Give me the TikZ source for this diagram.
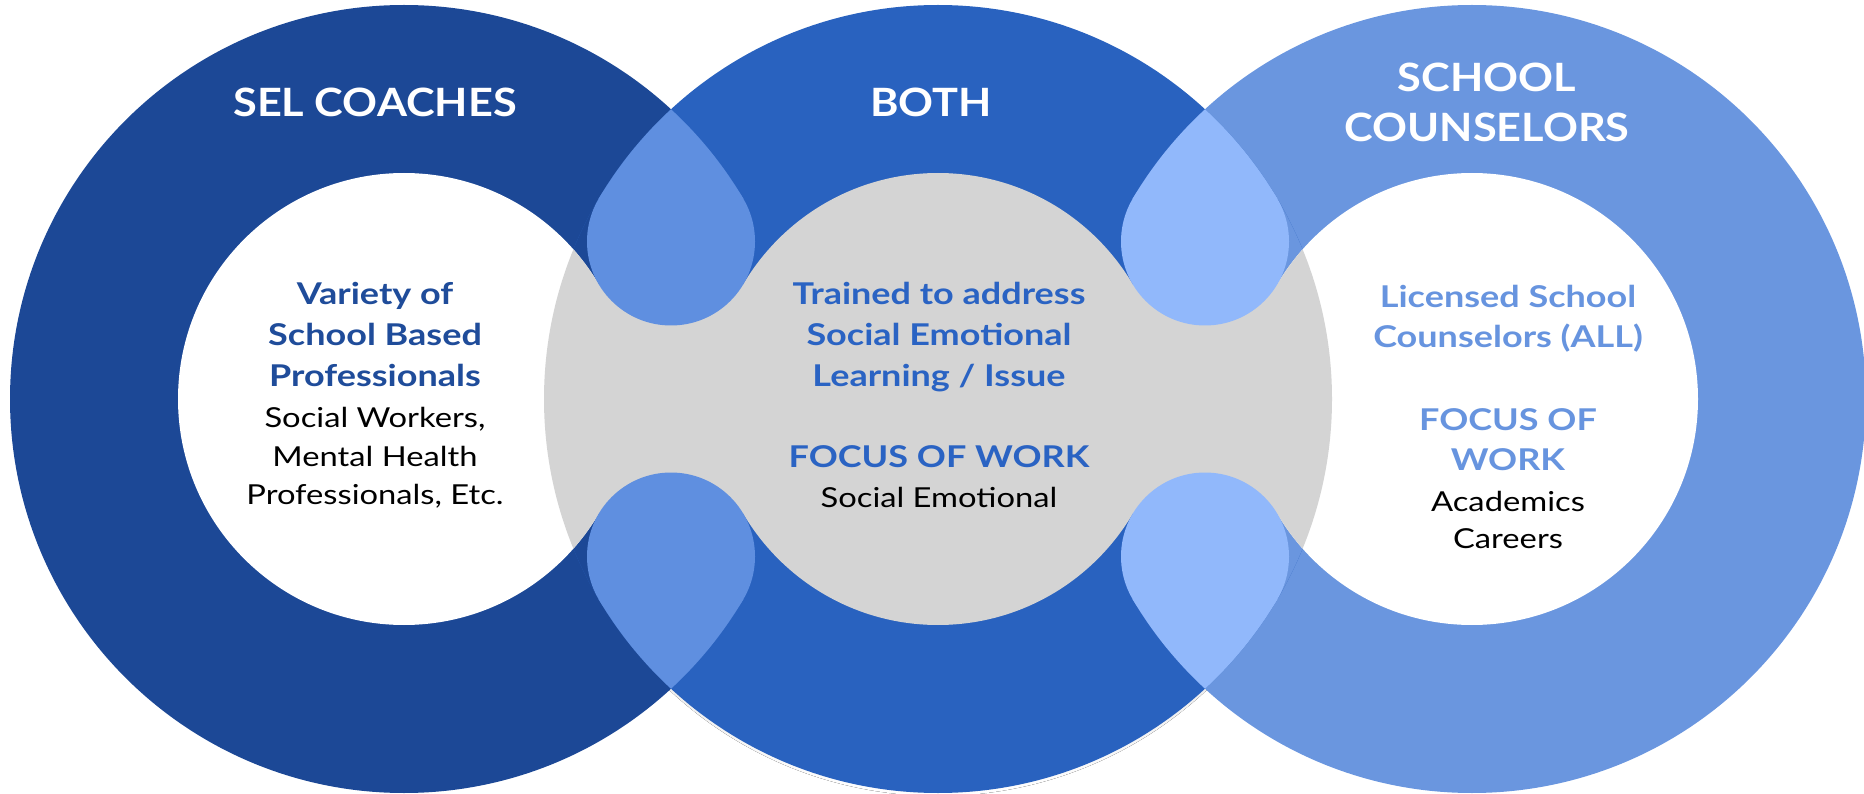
\documentclass[tikz,border=0pt]{standalone}
\usepackage{fontspec}
\setmainfont{Lato}
\newfontfamily\titlefamily{Lato}[FakeStretch=1.11]
\newfontfamily\headfamily{Lato}[FakeStretch=1.2]
\newfontfamily\bodyfamily{Lato}[FakeStretch=1.19]
\begin{document}
\begin{tikzpicture}[x=1pt,y=-1pt,
  titletext/.style={text=white, font=\titlefamily\fontsize{39}{47}\selectfont\bfseries, anchor=base, inner sep=0pt},
  headtext/.style={font=\headfamily\fontsize{30}{36}\selectfont\bfseries, anchor=base, inner sep=0pt},
  bodytext/.style={text=black, font=\bodyfamily\fontsize{27.5}{33}\selectfont, anchor=base, inner sep=0pt}]
\definecolor{ringdark}{HTML}{1C4896}
\definecolor{ringmid}{HTML}{2962BF}
\definecolor{ringlight}{HTML}{6A96DF}
\definecolor{dropA}{HTML}{5F8FE0}
\definecolor{dropB}{HTML}{91B8FB}
\definecolor{centergray}{HTML}{D4D4D4}
\definecolor{shade}{HTML}{CBCBCB}
\definecolor{txtdark}{HTML}{1F4C9A}
\definecolor{txtmid}{HTML}{2A63C3}
\definecolor{txtlight}{HTML}{6794DF}
\useasboundingbox (0,0) rectangle (1864,794);

% soft shadow under the middle ring
\fill[shade] (938,402) circle[radius=394];

% three outer disks
\fill[ringdark] (404,399) circle[radius=394];
\fill[ringlight] (1472,399) circle[radius=394];
\fill[ringmid] (938,399) circle[radius=394];

% each band keeps its own colour inside the overlaps
\begin{scope}
  \clip (404,399) circle[radius=394];
  \clip (938,399) circle[radius=394];
  \fill[ringdark] (500,0) rectangle (671,794);
  \fill[ringmid] (671,0) rectangle (850,794);
\end{scope}
\begin{scope}
  \clip (938,399) circle[radius=394];
  \clip (1472,399) circle[radius=394];
  \fill[ringmid] (1034,0) rectangle (1205,794);
  \fill[ringlight] (1205,0) rectangle (1384,794);
\end{scope}

% white holes of the outer rings
\fill[white] (404,399) circle[radius=226];
\fill[white] (1472,399) circle[radius=226];

% grey centre
\fill[centergray] (938,399) circle[radius=226];
\begin{scope}
  \clip (938,399) circle[radius=394];
  \fill[centergray] (404,399) circle[radius=226];
  \fill[centergray] (1472,399) circle[radius=226];
\end{scope}
\fill[centergray] (598.65,284.2) -- (671,241.5) -- (743.35,284.2) -- (743.35,513.8) -- (671,556.5) -- (598.65,513.8) -- cycle;
\fill[centergray] (1132.65,284.2) -- (1205,241.5) -- (1277.35,284.2) -- (1277.35,513.8) -- (1205,556.5) -- (1132.65,513.8) -- cycle;

% teardrops in the overlaps
\begin{scope}
  \clip (404,399) circle[radius=394];
  \clip (938,399) circle[radius=394];
  \fill[dropA] (500,0) rectangle (850,199.5);
  \fill[dropA] (500,598.5) rectangle (850,794);
\end{scope}
\fill[dropA] (671,241.5) circle[radius=84];
\fill[dropA] (671,556.5) circle[radius=84];
\begin{scope}
  \clip (938,399) circle[radius=394];
  \clip (1472,399) circle[radius=394];
  \fill[dropB] (1034,0) rectangle (1384,199.5);
  \fill[dropB] (1034,598.5) rectangle (1384,794);
\end{scope}
\fill[dropB] (1205,241.5) circle[radius=84];
\fill[dropB] (1205,556.5) circle[radius=84];

% left ring texts
\node[titletext] (t1) at (375,117) {SEL COACHES};
\node[headtext, text=txtdark] (l1) at (375,305) {Variety of};
\node[headtext, text=txtdark] (l2) at (375,345) {School Based};
\node[headtext, text=txtdark] (l3) at (375,386) {Professionals};
\node[bodytext] (l4) at (375,427) {Social Workers,};
\node[bodytext] (l5) at (375,466) {Mental Health};
\node[bodytext] (l6) at (375,504) {Professionals, Etc.};

% middle ring texts
\node[titletext] (t2) at (931,117) {BOTH};
\node[headtext, text=txtmid] (m1) at (939,305) {Trained to address};
\node[headtext, text=txtmid] (m2) at (939,345) {Social Emotional};
\node[headtext, text=txtmid] (m3) at (939,386) {Learning / Issue};
\node[headtext, text=txtmid] (m4) at (939,467) {FOCUS OF WORK};
\node[bodytext] (m5) at (939,507) {Social Emotional};

% right ring texts
\node[titletext] (t3) at (1487,92) {SCHOOL};
\node[titletext] (t4) at (1487,142) {COUNSELORS};
\node[headtext, text=txtlight] (r1) at (1508,308) {Licensed School};
\node[headtext, text=txtlight] (r2) at (1508,348) {Counselors (ALL)};
\node[headtext, text=txtlight] (r3) at (1508,430) {FOCUS OF};
\node[headtext, text=txtlight] (r4) at (1508,470) {WORK};
\node[bodytext] (r5) at (1508,511) {Academics};
\node[bodytext] (r6) at (1508,548) {Careers};
\end{tikzpicture}
\end{document}
